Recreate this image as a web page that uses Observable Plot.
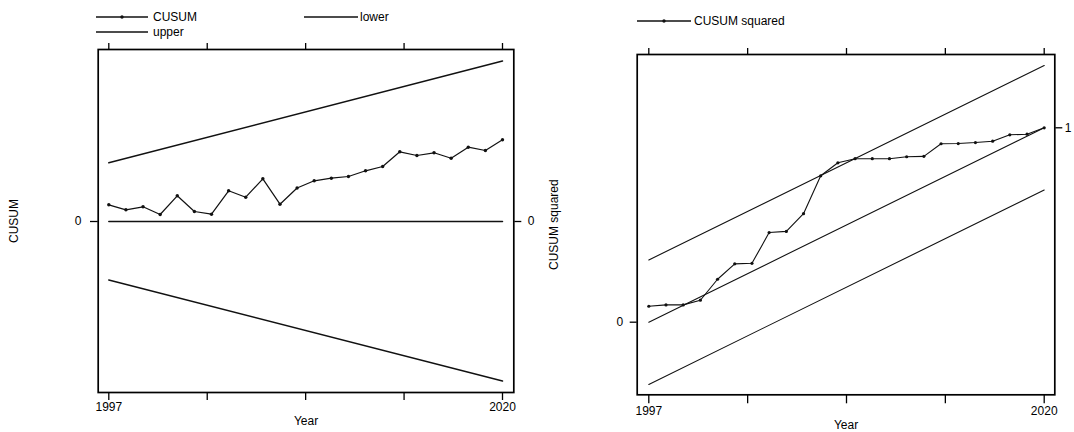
<!DOCTYPE html>
<html>
<head>
<meta charset="utf-8">
<script src="https://cdn.jsdelivr.net/npm/d3@7"></script>
<script src="https://cdn.jsdelivr.net/npm/@observablehq/plot@0.6"></script>
<style>
  html, body { margin: 0; padding: 0; background: #fff; }
  #root { position: relative; width: 1074px; height: 432px; overflow: hidden;
          font-family: "Liberation Sans", Arial, sans-serif; font-size: 12px; color: #000; }
  .panel { position: absolute; top: 36px; }
  .leg { position: absolute; display: flex; align-items: center; height: 14px; white-space: nowrap; line-height: 14px; }
  .leg svg { display: block; }
</style>
</head>
<body>
<div id="root"></div>
<script>
// ---- data ----
const years = [1997, 1998, 1999, 2000, 2001, 2002, 2003, 2004, 2005, 2006, 2007, 2008,
               2009, 2010, 2011, 2012, 2013, 2014, 2015, 2016, 2017, 2018, 2019, 2020];
const cusum = [1.67, 1.17, 1.47, 0.70, 2.57, 1.00, 0.73, 3.07, 2.43, 4.27, 1.73, 3.35,
               4.07, 4.33, 4.50, 5.07, 5.50, 6.97, 6.60, 6.87, 6.33, 7.43, 7.10, 8.17];
const boundYears = [1997, 2020];
const cusumUpper = [5.87, 16.05];
const cusumLower = [-5.85, -15.95];
const cusumZero = [0, 0];

const cusumsq = [0.082, 0.089, 0.089, 0.113, 0.221, 0.300, 0.303, 0.461, 0.467, 0.558, 0.753, 0.820,
                 0.841, 0.841, 0.841, 0.851, 0.853, 0.918, 0.919, 0.924, 0.931, 0.964, 0.967, 1.000];
const sqUpper = [0.32, 1.32];
const sqExpected = [0, 1];
const sqLower = [-0.32, 0.68];

const xTicks = [1997, 2002.75, 2008.5, 2014.25, 2020];
const xTickLabels = [1997, 2020];
const leftYTicks = [0];
const rightPanelLeftTicks = [0];
const rightPanelRightTicks = [1];
const legendLeft = ["CUSUM", "lower", "upper"];
const legendRight = ["CUSUM squared"];
const xTitle = "Year";
const yTitleLeft = "CUSUM";
const yTitleRight = "CUSUM squared";

// ---- helpers ----
const pts = (xs, ys) => xs.map((x, i) => ({x, y: ys[i]}));
const style = {fontFamily: '"Liberation Sans", Arial, sans-serif', fontSize: "12px",
               color: "#000", background: "transparent", overflow: "visible"};
const fmtX = d => xTickLabels.includes(d) ? String(d) : "";
const fmtY = d => String(d);

const root = document.getElementById("root");

// ---- left panel: CUSUM ----
const leftPlot = Plot.plot({
  width: 540, height: 396,
  marginLeft: 97.7, marginRight: 26.7, marginTop: 13, marginBottom: 40,
  insetLeft: 10.6, insetRight: 11.3,
  x: {domain: [1997, 2020]},
  y: {domain: [-17.1, 17.2]},
  style,
  marks: [
    Plot.axisX({anchor: "top", ticks: xTicks, tickSize: 7, tickFormat: () => "", label: null, strokeWidth: 1.3}),
    Plot.axisX({anchor: "bottom", ticks: xTicks, tickSize: 8, tickPadding: 2, tickFormat: fmtX, label: null, strokeWidth: 1.3}),
    Plot.axisY({anchor: "left", ticks: leftYTicks, tickSize: 7.7, tickPadding: 9, tickFormat: fmtY, label: null, strokeWidth: 1.3}),
    Plot.axisY({anchor: "right", ticks: leftYTicks, tickSize: 7, tickPadding: 7, tickFormat: fmtY, label: null, strokeWidth: 1.3}),
    Plot.frame({stroke: "#000", strokeWidth: 1.7}),
    Plot.line(pts(boundYears, cusumUpper), {x: "x", y: "y", stroke: "#111", strokeWidth: 1.5}),
    Plot.line(pts(boundYears, cusumLower), {x: "x", y: "y", stroke: "#111", strokeWidth: 1.5}),
    Plot.line(pts(boundYears, cusumZero), {x: "x", y: "y", stroke: "#111", strokeWidth: 1.5}),
    Plot.line(pts(years, cusum), {x: "x", y: "y", stroke: "#111", strokeWidth: 1.2}),
    Plot.dot(pts(years, cusum), {x: "x", y: "y", r: 1.7, fill: "#111", stroke: null}),
    Plot.text([xTitle], {frameAnchor: "bottom", lineAnchor: "top", textAnchor: "middle", dy: 24, text: d => d}),
    Plot.text([yTitleLeft], {frameAnchor: "left", textAnchor: "middle", lineAnchor: "middle", dx: -83.7, rotate: -90, text: d => d})
  ]
});
leftPlot.classList.add("panel");
leftPlot.style.left = "0px";
root.appendChild(leftPlot);

// ---- right panel: CUSUM squared ----
const rightPlot = Plot.plot({
  width: 534, height: 396,
  marginLeft: 96.7, marginRight: 19.7, marginTop: 18, marginBottom: 37.7,
  insetLeft: 11.6, insetRight: 10.6,
  x: {domain: [1997, 2020]},
  y: {domain: [-0.3735, 1.377]},
  style,
  marks: [
    Plot.axisX({anchor: "top", ticks: xTicks, tickSize: 7, tickFormat: () => "", label: null, strokeWidth: 1.3}),
    Plot.axisX({anchor: "bottom", ticks: xTicks, tickSize: 9, tickPadding: 2.5, tickFormat: fmtX, label: null, strokeWidth: 1.3}),
    Plot.axisY({anchor: "left", ticks: rightPanelLeftTicks, tickSize: 7, tickPadding: 7, tickFormat: fmtY, label: null, strokeWidth: 1.3}),
    Plot.axisY({anchor: "right", ticks: rightPanelRightTicks, tickSize: 7, tickPadding: 3, tickFormat: fmtY, label: null, strokeWidth: 1.3}),
    Plot.frame({stroke: "#000", strokeWidth: 1.7}),
    Plot.line(pts(boundYears, sqUpper), {x: "x", y: "y", stroke: "#111", strokeWidth: 1.1}),
    Plot.line(pts(boundYears, sqExpected), {x: "x", y: "y", stroke: "#111", strokeWidth: 1.1}),
    Plot.line(pts(boundYears, sqLower), {x: "x", y: "y", stroke: "#111", strokeWidth: 1.1}),
    Plot.line(pts(years, cusumsq), {x: "x", y: "y", stroke: "#111", strokeWidth: 1.1}),
    Plot.dot(pts(years, cusumsq), {x: "x", y: "y", r: 1.6, fill: "#111", stroke: null}),
    Plot.text([xTitle], {frameAnchor: "bottom", lineAnchor: "top", textAnchor: "middle", dy: 25.7, text: d => d}),
    Plot.text([yTitleRight], {frameAnchor: "left", textAnchor: "middle", lineAnchor: "middle", dx: -83.2, rotate: -90, text: d => d})
  ]
});
rightPlot.classList.add("panel");
rightPlot.style.left = "540px";
root.appendChild(rightPlot);

// ---- legends (HTML, above the plots) ----
function legendItem(x, yCenter, w, gap, label, withDot) {
  const div = document.createElement("div");
  div.className = "leg";
  div.style.left = x + "px";
  div.style.top = (yCenter - 7) + "px";
  const svgNS = "http://www.w3.org/2000/svg";
  const svg = document.createElementNS(svgNS, "svg");
  svg.setAttribute("width", w);
  svg.setAttribute("height", 14);
  const ln = document.createElementNS(svgNS, "line");
  ln.setAttribute("x1", 0); ln.setAttribute("x2", w);
  ln.setAttribute("y1", 7); ln.setAttribute("y2", 7);
  ln.setAttribute("stroke", "#111"); ln.setAttribute("stroke-width", 1.4);
  svg.appendChild(ln);
  if (withDot) {
    const c = document.createElementNS(svgNS, "circle");
    c.setAttribute("cx", w / 2); c.setAttribute("cy", 7); c.setAttribute("r", 1.7);
    c.setAttribute("fill", "#111");
    svg.appendChild(c);
  }
  div.appendChild(svg);
  const span = document.createElement("span");
  span.textContent = label;
  span.style.marginLeft = gap + "px";
  div.appendChild(span);
  root.appendChild(div);
}
legendItem(96, 17, 52, 5, legendLeft[0], true);
legendItem(304, 17, 54, 2, legendLeft[1], false);
legendItem(96, 32, 52, 5, legendLeft[2], false);
legendItem(637, 21, 54, 3, legendRight[0], true);
</script>
</body>
</html>
